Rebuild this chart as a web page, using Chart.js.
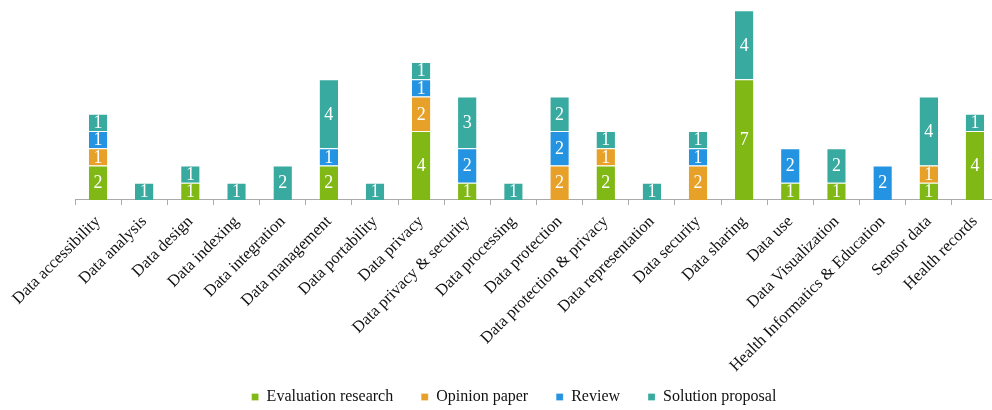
<!DOCTYPE html>
<html>
<head>
<meta charset="utf-8">
<script src="https://cdn.jsdelivr.net/npm/chart.js@4.4.1/dist/chart.umd.min.js"></script>
<style>
  html, body { margin: 0; padding: 0; background: #fff; }
  #wrap { width: 992px; height: 410px; }
</style>
</head>
<body>
<div id="wrap"><canvas id="topicChart"></canvas></div>
<script>
const categories = [
  "Data accessibility", "Data analysis", "Data design", "Data indexing",
  "Data integration", "Data management", "Data portability", "Data privacy",
  "Data privacy & security", "Data processing", "Data protection",
  "Data protection & privacy", "Data representation", "Data security",
  "Data sharing", "Data use", "Data Visualization",
  "Health Informatics & Education", "Sensor data", "Health records"
];

// null = no paper of that type for the topic
const evaluationResearch = [2, null, 1, null, null, 2, null, 4, 1, null, null, 2, null, null, 7, 1, 1, null, 1, 4];
const opinionPaper       = [1, null, null, null, null, null, null, 2, null, null, 2, 1, null, 2, null, null, null, null, 1, null];
const review             = [1, null, null, null, null, 1, null, 1, 2, null, 2, null, null, 1, null, 2, null, 2, null, null];
const solutionProposal   = [1, 1, 1, 1, 2, 4, 1, 1, 3, 1, 2, 1, 1, 1, 4, null, 2, null, 4, 1];

const serif = "'Liberation Serif', 'DejaVu Serif', serif";
const labelSlack = 22; // px of x-label room handed back to the legend

// write the count in the middle of every segment
const segmentLabels = {
  id: "segmentLabels",
  afterLayout(chart) {
    const x = chart.scales.x;
    // let the long rotated labels run under the legend without being clipped
    x.bottom += labelSlack;
    // the original axis runs a few px past the right edge of the image
    x.right = chart.width + 6;
    x.width = x.right - x.left;
    x.configure();
  },
  afterDatasetsDraw(chart) {
    const ctx = chart.ctx;
    ctx.save();
    ctx.fillStyle = "#fff";
    ctx.font = "18px " + serif;
    ctx.textAlign = "center";
    ctx.textBaseline = "middle";
    chart.data.datasets.forEach((ds, i) => {
      const meta = chart.getDatasetMeta(i);
      meta.data.forEach((bar, j) => {
        const v = ds.data[j];
        if (v == null) return;
        ctx.fillText(String(v), bar.x, (bar.y + bar.base) / 2 + 1);
      });
    });
    ctx.restore();
  }
};

function makeSet(label, data, color) {
  return {
    label: label,
    data: data,
    backgroundColor: color,
    borderColor: "#fff",
    borderWidth: { top: 1, left: 0, right: 0, bottom: 0 },
    borderSkipped: false,
    barPercentage: 0.8,
    categoryPercentage: 0.5
  };
}

new Chart(document.getElementById("topicChart"), {
  type: "bar",
  data: {
    labels: categories,
    datasets: [
      makeSet("Evaluation research", evaluationResearch, "rgb(128, 184, 22)"),
      makeSet("Opinion paper", opinionPaper, "rgb(231, 160, 40)"),
      makeSet("Review", review, "rgb(36, 148, 226)"),
      makeSet("Solution proposal", solutionProposal, "rgb(56, 170, 160)")
    ]
  },
  options: {
    responsive: true,
    maintainAspectRatio: false,
    animation: false,
    layout: { padding: { top: 0, right: 0, bottom: 0, left: 36 } },
    plugins: {
      legend: {
        position: "bottom",
        maxHeight: 49,
        labels: {
          color: "#111",
          font: { family: serif, size: 16 },
          boxWidth: 7,
          boxHeight: 7,
          padding: 28
        }
      },
      tooltip: { enabled: false }
    },
    scales: {
      x: {
        stacked: true,
        // plot area starts further right than the first label needs,
        // and the rotated labels need less room than chart.js reserves
        afterFit(scale) {
          scale.paddingLeft = 75;
          scale.height = scale.height - labelSlack;
        },
        grid: {
          display: true,
          drawOnChartArea: false,
          drawTicks: true,
          tickLength: 5,
          color: "#aaa"
        },
        border: { display: true, color: "#aaa" },
        ticks: {
          color: "#111",
          font: { family: serif, size: 16.5 },
          maxRotation: 45,
          minRotation: 45,
          padding: 7,
          autoSkip: false
        }
      },
      y: {
        stacked: true,
        display: false,
        min: 0,
        max: 11.6
      }
    }
  },
  plugins: [segmentLabels]
});
</script>
</body>
</html>
